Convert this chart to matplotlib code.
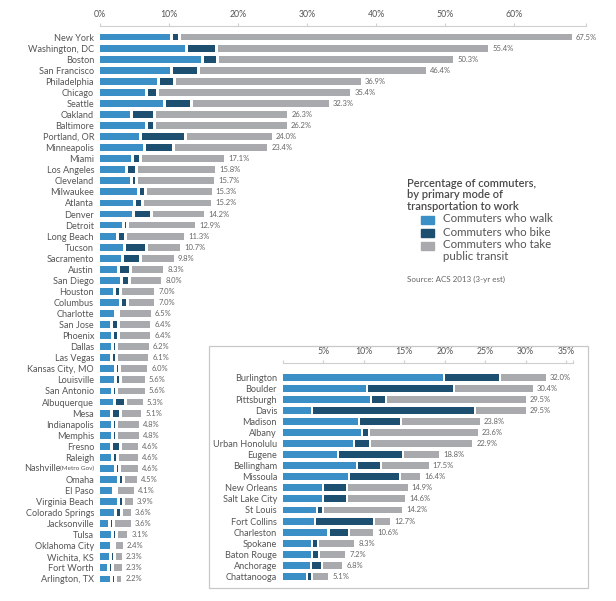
import matplotlib.pyplot as plt
from matplotlib.patches import Rectangle

plt.rcParams['font.family'] = ['Lato', 'DejaVu Sans']

# big cities
cities = ['New York', 'Washington, DC', 'Boston', 'San Francisco', 'Philadelphia',
          'Chicago', 'Seattle', 'Oakland', 'Baltimore', 'Portland, OR', 'Minneapolis',
          'Miami', 'Los Angeles', 'Cleveland', 'Milwaukee', 'Atlanta', 'Denver',
          'Detroit', 'Long Beach', 'Tucson', 'Sacramento', 'Austin', 'San Diego',
          'Houston', 'Columbus', 'Charlotte', 'San Jose', 'Phoenix', 'Dallas',
          'Las Vegas', 'Kansas City, MO', 'Louisville', 'San Antonio', 'Albuquerque',
          'Mesa', 'Indianapolis', 'Memphis', 'Fresno', 'Raleigh', 'Nashville (Metro Gov)',
          'Omaha', 'El Paso', 'Virginia Beach', 'Colorado Springs', 'Jacksonville',
          'Tulsa', 'Oklahoma City', 'Wichita, KS', 'Fort Worth', 'Arlington, TX']
walk = [10.1, 12.3, 14.7, 10.1, 8.3, 6.5, 9.1, 4.4, 6.5, 5.7, 6.3,
        4.5, 3.6, 4.4, 5.4, 4.8, 4.6, 3.2, 2.3, 3.4, 3.1, 2.4, 2.9,
        1.9, 2.7, 2.0, 1.4, 1.6, 1.6, 1.5, 2.0, 2.1, 1.6, 1.9,
        1.5, 1.6, 1.6, 1.4, 1.6, 2.0, 2.5, 1.8, 2.4, 2.0, 1.1,
        1.6, 1.4, 1.3, 1.0, 1.5]
bike = [0.8, 3.9, 1.7, 3.5, 1.9, 1.2, 3.5, 2.8, 0.7, 6.0, 3.7,
        0.7, 1.0, 0.3, 0.6, 0.7, 2.2, 0.2, 0.8, 2.7, 2.1, 1.4, 0.7,
        0.4, 0.6, 0.1, 0.7, 0.5, 0.1, 0.2, 0.2, 0.2, 0.2, 1.2,
        0.8, 0.2, 0.2, 0.9, 0.3, 0.2, 0.2, 0.0, 0.3, 0.4, 0.2,
        0.1, 0.1, 0.2, 0.1, 0.1]
transit = [56.6, 39.2, 33.9, 32.8, 26.7, 27.7, 19.7, 19.1, 19.0, 12.3, 13.4,
           11.9, 11.2, 11.0, 9.3, 9.7, 7.4, 9.5, 8.2, 4.6, 4.6, 4.5, 4.4,
           4.7, 3.7, 4.4, 4.3, 4.3, 4.5, 4.4, 3.8, 3.3, 3.8, 2.2,
           2.8, 3.0, 3.0, 2.3, 2.7, 2.4, 1.8, 2.3, 1.2, 1.2, 2.3,
           1.4, 0.9, 0.8, 1.2, 0.6]
total = [67.5, 55.4, 50.3, 46.4, 36.9, 35.4, 32.3, 26.3, 26.2, 24.0, 23.4,
         17.1, 15.8, 15.7, 15.3, 15.2, 14.2, 12.9, 11.3, 10.7, 9.8, 8.3, 8.0,
         7.0, 7.0, 6.5, 6.4, 6.4, 6.2, 6.1, 6.0, 5.6, 5.6, 5.3,
         5.1, 4.8, 4.8, 4.6, 4.6, 4.6, 4.5, 4.1, 3.9, 3.6, 3.6,
         3.1, 2.4, 2.3, 2.3, 2.2]

# small cities (inset)
small_cities = ['Burlington', 'Boulder', 'Pittsburgh', 'Davis', 'Madison', 'Albany',
                'Urban Honolulu', 'Eugene', 'Bellingham', 'Missoula', 'New Orleans',
                'Salt Lake City', 'St Louis', 'Fort Collins', 'Charleston', 'Spokane',
                'Baton Rouge', 'Anchorage', 'Chattanooga']
s_walk = [19.8, 10.3, 10.8, 3.4, 9.3, 9.6, 8.7, 6.7, 9.0, 8.0, 4.8,
          4.8, 4.1, 3.8, 5.5, 3.5, 3.5, 3.3, 2.8]
s_bike = [6.6, 10.5, 1.6, 19.9, 4.9, 0.6, 1.7, 7.8, 2.7, 6.1, 2.7,
          2.7, 0.5, 7.1, 2.3, 0.4, 0.6, 1.1, 0.4]
s_transit = [5.6, 9.6, 17.1, 6.2, 9.6, 13.4, 12.5, 4.3, 5.8, 2.3, 7.4,
             7.1, 9.6, 1.8, 2.8, 4.4, 3.1, 2.4, 1.9]
s_total = [32.0, 30.4, 29.5, 29.5, 23.8, 23.6, 22.9, 18.8, 17.5, 16.4, 14.9,
           14.6, 14.2, 12.7, 10.6, 8.3, 7.2, 6.8, 5.1]

C_WALK = '#3a8fc6'
C_BIKE = '#1c4f70'
C_TRANSIT = '#a9aaad'
C_TEXT = '#555555'
C_LINE = '#cfcfcf'


def draw_bars(ax, names, w, b, t, tot, gap, xmax, ticks, ticklabels, top):
    n = len(names)
    for i in range(n):
        ax.barh(i, w[i], left=0, height=0.62, color=C_WALK)
        ax.barh(i, b[i], left=w[i] + gap, height=0.62, color=C_BIKE)
        ax.barh(i, t[i], left=w[i] + b[i] + 2 * gap, height=0.62, color=C_TRANSIT)
        ax.annotate('%.1f%%' % tot[i], xy=(w[i] + b[i] + t[i] + 2 * gap, i),
                    xytext=(3, 0), textcoords='offset points', va='center',
                    fontsize=5.5, color='#666666')
    ax.set_xlim(0, xmax)
    ax.set_ylim(n - 0.5, top)
    ax.set_yticks(range(n))
    ax.set_yticklabels(names)
    ax.xaxis.tick_top()
    ax.set_xticks(ticks)
    ax.set_xticklabels(ticklabels)
    ax.set_xticks([xmax], minor=True)
    for s in ['left', 'right', 'bottom']:
        ax.spines[s].set_visible(False)
    ax.spines['top'].set_color(C_LINE)
    ax.spines['top'].set_linewidth(0.8)
    ax.tick_params(axis='x', which='both', length=2.5, width=0.8, color=C_LINE,
                   labelsize=6.3, labelcolor=C_TEXT, pad=2.5)
    ax.tick_params(axis='y', length=0, pad=4.3, labelsize=6.6, labelcolor=C_TEXT)
    ax.patch.set_visible(False)


fig = plt.figure(figsize=(6.16, 6.01), dpi=100)

ax = fig.add_axes([100 / 616, 1 - 584.5 / 601, 486 / 616, 558.5 / 601])
draw_bars(ax, cities, walk, bike, transit, total, 0.43, 70.4,
          [0, 10, 20, 30, 40, 50, 60], ['0%', '10%', '20%', '30%', '40%', '50%', '60%'],
          -1.0)

# Nashville label with the smaller "(Metro Gov)"
labels = [l.get_text() for l in ax.get_yticklabels()]
k = cities.index('Nashville (Metro Gov)')
labels[k] = ''
ax.set_yticklabels(labels)
ax.annotate('(Metro Gov)', xy=(0, k), xycoords=('axes fraction', 'data'),
            xytext=(-4.3, 0), textcoords='offset points', ha='right', va='center',
            fontsize=4.6, color=C_TEXT)
ax.annotate('Nashville', xy=(0, k), xycoords=('axes fraction', 'data'),
            xytext=(-28, 0), textcoords='offset points', ha='right', va='center',
            fontsize=6.6, color=C_TEXT)

# inset frame
fig.patches.append(Rectangle((209 / 616, 1 - 588 / 601), 379 / 616, 242 / 601,
                             transform=fig.transFigure, fill=False,
                             edgecolor='#c8c8c8', linewidth=0.9))

ax2 = fig.add_axes([283 / 616, 1 - 582 / 601, 290 / 616, 219 / 601])
draw_bars(ax2, small_cities, s_walk, s_bike, s_transit, s_total, 0.25, 35.85,
          [0, 5, 10, 15, 20, 25, 30, 35], ['', '5%', '10%', '15%', '20%', '25%', '30%', '35%'],
          -1.27)

# legend block
fig.text(407 / 616, 1 - 178 / 601, 'Percentage of commuters,\nby primary mode of\ntransportation to work',
         fontsize=8, fontweight='semibold', color='#4a4a4a', va='top', linespacing=1.05,
         transform=fig.transFigure)
items = [(C_WALK, 'Commuters who walk'), (C_BIKE, 'Commuters who bike'),
         (C_TRANSIT, 'Commuters who take\npublic transit')]
for j, (c, lab) in enumerate(items):
    yc = 220 + 13 * j
    fig.patches.append(Rectangle((421 / 616, 1 - (yc + 4) / 601), 13 / 616, 8 / 601,
                                 transform=fig.transFigure, color=c))
    fig.text(443 / 616, 1 - (yc - 6.5) / 601, lab, fontsize=8.3, color=C_TEXT,
             va='top', linespacing=1.0)
fig.text(407 / 616, 1 - 279 / 601, 'Source: ACS 2013 (3-yr est)', fontsize=5.8,
         color='#666666', va='center')

fig.savefig('out.png', dpi=100)
